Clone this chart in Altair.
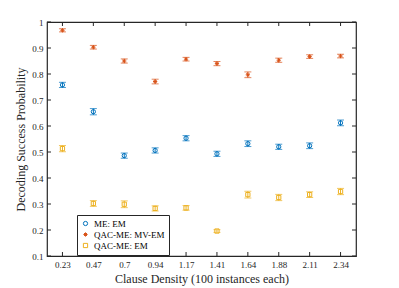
import altair as alt
import pandas as pd

densities = ["0.23", "0.47", "0.7", "0.94", "1.17", "1.41", "1.64", "1.88", "2.11", "2.34"]
series_names = ["ME: EM", "QAC-ME: MV-EM", "QAC-ME: EM"]
me_em = [0.758, 0.655, 0.486, 0.506, 0.553, 0.493, 0.532, 0.520, 0.524, 0.612]
qac_mv = [0.968, 0.903, 0.850, 0.771, 0.857, 0.840, 0.797, 0.853, 0.867, 0.869]
qac_em = [0.513, 0.302, 0.299, 0.283, 0.285, 0.196, 0.336, 0.325, 0.336, 0.348]
me_err = [0.010, 0.012, 0.010, 0.010, 0.010, 0.010, 0.011, 0.010, 0.011, 0.011]
mv_err = [0.006, 0.007, 0.008, 0.009, 0.007, 0.008, 0.011, 0.008, 0.007, 0.007]
em_err = [0.012, 0.011, 0.013, 0.010, 0.009, 0.005, 0.013, 0.012, 0.011, 0.012]
y_ticks = [0.1, 0.2, 0.3, 0.4, 0.5, 0.6, 0.7, 0.8, 0.9, 1.0]

rows = []
for name, vals, errs in zip(series_names, [me_em, qac_mv, qac_em], [me_err, mv_err, em_err]):
    for d, v, e in zip(densities, vals, errs):
        rows.append({"cd": d, "series": name, "v": v, "lo": v - e, "hi": v + e})
df = pd.DataFrame(rows)

W, H = 309, 234
FONT = "Liberation Serif"
AX = "#262626"
colors = ["#0072BD", "#D95319", "#EDB120"]
asterisk = "M-1,0L1,0M0,-1L0,1M-0.7,-0.7L0.7,0.7M-0.7,0.7L0.7,-0.7"
shapes = ["circle", asterisk, "square"]

xscale = alt.Scale(type="point", domain=densities, padding=0.5)
yscale = alt.Scale(domain=[0.1, 1.0], nice=False)
color_enc = alt.Color("series:N", sort=series_names,
                      scale=alt.Scale(domain=series_names, range=colors),
                      legend=alt.Legend(title=None))
shape_enc = alt.Shape("series:N", sort=series_names,
                      scale=alt.Scale(domain=series_names, range=shapes),
                      legend=alt.Legend(title=None))

x_axis = alt.Axis(title="Clause Density (100 instances each)", labelAngle=0,
                  ticks=False, domain=False, grid=False, labelOverlap=False)
y_axis = alt.Axis(title="Decoding Success Probability", values=y_ticks,
                  format=".1~f", ticks=False, domain=False, grid=False,
                  labelOverlap=False, labelFlush=False)

def X():
    return alt.X("cd:O", scale=xscale, sort=densities, axis=x_axis)

def Y(f):
    return alt.Y(f, scale=yscale, axis=y_axis)

base = alt.Chart(df)
layers = [base.mark_point(filled=False, size=18, strokeWidth=1, opacity=1).encode(
    x=X(), y=Y("v:Q"), color=color_enc, shape=shape_enc)]
for name, col in zip(series_names, colors):
    sub = base.transform_filter(alt.datum.series == name)
    layers.append(sub.mark_rule(strokeWidth=1, color=col).encode(
        x=X(), y=Y("lo:Q"), y2="hi:Q"))
    layers.append(sub.mark_tick(size=7, thickness=1, color=col).encode(
        x=X(), y=Y("lo:Q")))
    layers.append(sub.mark_tick(size=7, thickness=1, color=col).encode(
        x=X(), y=Y("hi:Q")))

xt = pd.DataFrame({"cd": densities})
yt = pd.DataFrame({"t": y_ticks})
layers.append(alt.Chart(xt).mark_rule(color=AX, strokeWidth=1).encode(
    x=X(), y=alt.value(H), y2=alt.value(H - 4)))
layers.append(alt.Chart(xt).mark_rule(color=AX, strokeWidth=1).encode(
    x=X(), y=alt.value(0), y2=alt.value(4)))
layers.append(alt.Chart(yt).mark_rule(color=AX, strokeWidth=1).encode(
    y=Y("t:Q"), x=alt.value(0), x2=alt.value(4)))
layers.append(alt.Chart(yt).mark_rule(color=AX, strokeWidth=1).encode(
    y=Y("t:Q"), x=alt.value(W), x2=alt.value(W - 4)))

chart = alt.layer(*layers).properties(
    width=W, height=H, background="white",
    padding={"left": 6, "top": 10, "right": 5, "bottom": 5}
).configure_view(stroke=AX, strokeWidth=1.2).configure_axis(
    labelFont=FONT, titleFont=FONT, labelFontSize=9, titleFontSize=12,
    labelColor=AX, titleColor=AX, titleFontWeight="normal", labelPadding=4
).configure_legend(
    orient="none", legendX=30, legendY=193, strokeColor=AX, fillColor="white",
    padding=4, labelFont=FONT, labelFontSize=9, labelColor="black",
    symbolSize=18, rowPadding=1, symbolStrokeWidth=1, cornerRadius=0
)

chart.save("out.html", embed_options={"renderer": "svg", "actions": False})
